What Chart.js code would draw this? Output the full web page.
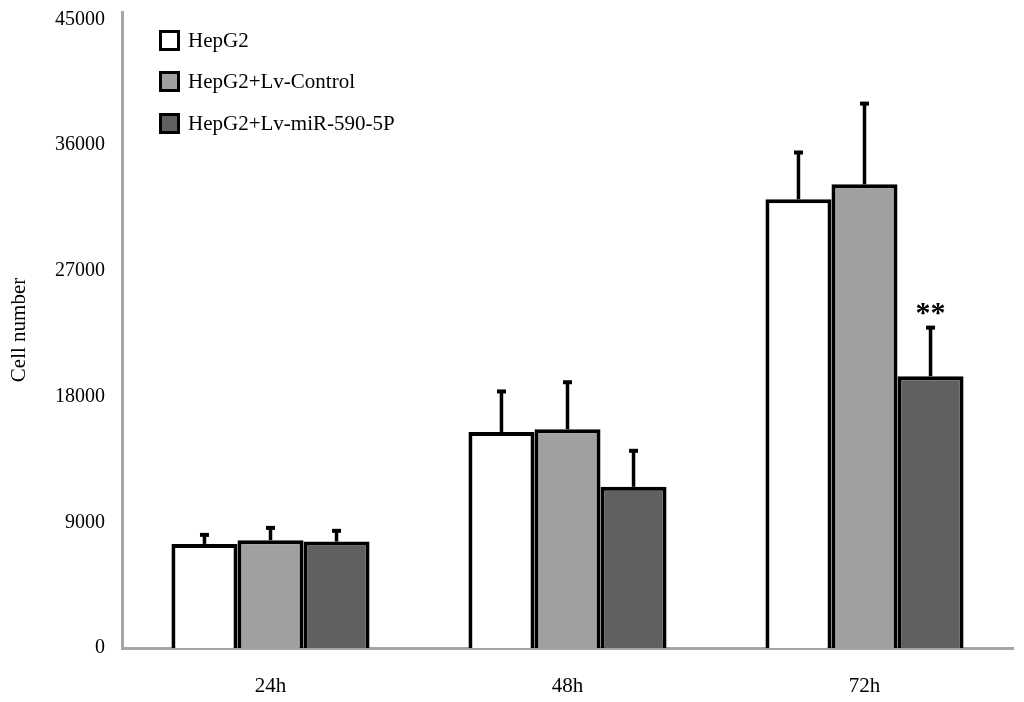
<!DOCTYPE html>
<html>
<head>
<meta charset="utf-8">
<script src="https://cdn.jsdelivr.net/npm/chart.js@4/dist/chart.umd.min.js"></script>
<style>
  html, body { margin: 0; padding: 0; background: #fff; }
  #wrap { position: relative; width: 1024px; height: 702px; }
  #legend { position: absolute; left: 159px; top: 29px; font-family: "Liberation Serif", "Times New Roman", serif; font-size: 21px; color: #000; }
  #legend .item { display: flex; align-items: center; height: 22px; margin-bottom: 19.5px; }
  #legend .box { width: 15px; height: 15px; border: 3px solid #000; margin-right: 8px; box-sizing: content-box; }
</style>
</head>
<body>
<div id="wrap">
  <canvas id="chart" width="1024" height="702"></canvas>
  <div id="legend"></div>
</div>
<script>
// Data
const categories = ['24h', '48h', '72h'];
const seriesNames = ['HepG2', 'HepG2+Lv-Control', 'HepG2+Lv-miR-590-5P'];
const hepg2 = [7450, 15470, 32130];
const lvControl = [7720, 15660, 33200];
const lvMir = [7620, 11540, 19460];
const hepg2Err = [650, 2900, 3350];
const lvControlErr = [880, 3370, 5780];
const lvMirErr = [770, 2580, 3480];
const lvMirSig = ['', '', '**'];
const yTicks = [0, 9000, 18000, 27000, 36000, 45000];

const fills = ['#ffffff', '#a0a0a0', '#606060'];
const values = [hepg2, lvControl, lvMir];
const errors = [hepg2Err, lvControlErr, lvMirErr];
const sigs = [null, null, lvMirSig];

const serif = '"Liberation Serif", "Times New Roman", serif';
const axisGray = '#a6a6a6';

// error bars and significance stars
const errorBars = {
  id: 'errorBars',
  afterDatasetsDraw(chart) {
    const ctx = chart.ctx;
    const y = chart.scales.y;
    chart.data.datasets.forEach((ds, di) => {
      const meta = chart.getDatasetMeta(di);
      meta.data.forEach((bar, i) => {
        const top = y.getPixelForValue(ds.data[i] + errors[di][i]);
        ctx.save();
        ctx.strokeStyle = '#000';
        ctx.lineWidth = 3.5;
        ctx.beginPath();
        ctx.moveTo(bar.x, bar.y);
        ctx.lineTo(bar.x, top);
        ctx.stroke();
        ctx.lineWidth = 4;
        ctx.beginPath();
        ctx.moveTo(bar.x - 4.5, top);
        ctx.lineTo(bar.x + 4.5, top);
        ctx.stroke();
        const s = sigs[di] && sigs[di][i];
        if (s) {
          ctx.fillStyle = '#000';
          ctx.font = 'bold 30px ' + serif;
          ctx.textAlign = 'center';
          ctx.textBaseline = 'alphabetic';
          ctx.fillText(s, bar.x, top - 6);
        }
        ctx.restore();
      });
    });
  }
};

new Chart(document.getElementById('chart').getContext('2d'), {
  type: 'bar',
  data: {
    labels: categories,
    datasets: seriesNames.map((name, i) => ({
      label: name,
      data: values[i],
      backgroundColor: fills[i],
      borderColor: '#000',
      borderWidth: 4,
      borderSkipped: 'bottom',
      barPercentage: 1,
      categoryPercentage: 0.667
    }))
  },
  options: {
    responsive: false,
    animation: false,
    devicePixelRatio: 1,
    layout: { padding: { top: 12, right: 11, bottom: 0, left: 0 } },
    plugins: {
      legend: { display: false },
      tooltip: { enabled: false }
    },
    scales: {
      x: {
        grid: { display: false, drawTicks: false },
        border: { display: true, color: axisGray, width: 3 },
        ticks: { color: '#000', padding: 26, font: { family: serif, size: 21 } },
        afterFit(scale) { scale.height = 54; scale.paddingLeft = 0; scale.paddingRight = 0; }
      },
      y: {
        min: 0,
        max: 45540,
        afterBuildTicks(scale) { scale.ticks = yTicks.map(v => ({ value: v })); },
        grid: { display: false, drawTicks: false },
        border: { display: true, color: axisGray, width: 3 },
        ticks: { color: '#000', padding: 17, font: { family: serif, size: 20 }, callback: v => String(v) },
        title: { display: true, text: 'Cell number', color: '#000', padding: { top: 7, bottom: 0 }, font: { family: serif, size: 21 } },
        afterFit(scale) { scale.width = 122; scale.paddingTop = 0; scale.paddingBottom = 0; }
      }
    }
  },
  plugins: [errorBars]
});

// legend built from the series names
const legend = document.getElementById('legend');
seriesNames.forEach((name, i) => {
  const item = document.createElement('div');
  item.className = 'item';
  const box = document.createElement('span');
  box.className = 'box';
  box.style.background = fills[i];
  const txt = document.createElement('span');
  txt.textContent = name;
  item.appendChild(box);
  item.appendChild(txt);
  legend.appendChild(item);
});
</script>
</body>
</html>
